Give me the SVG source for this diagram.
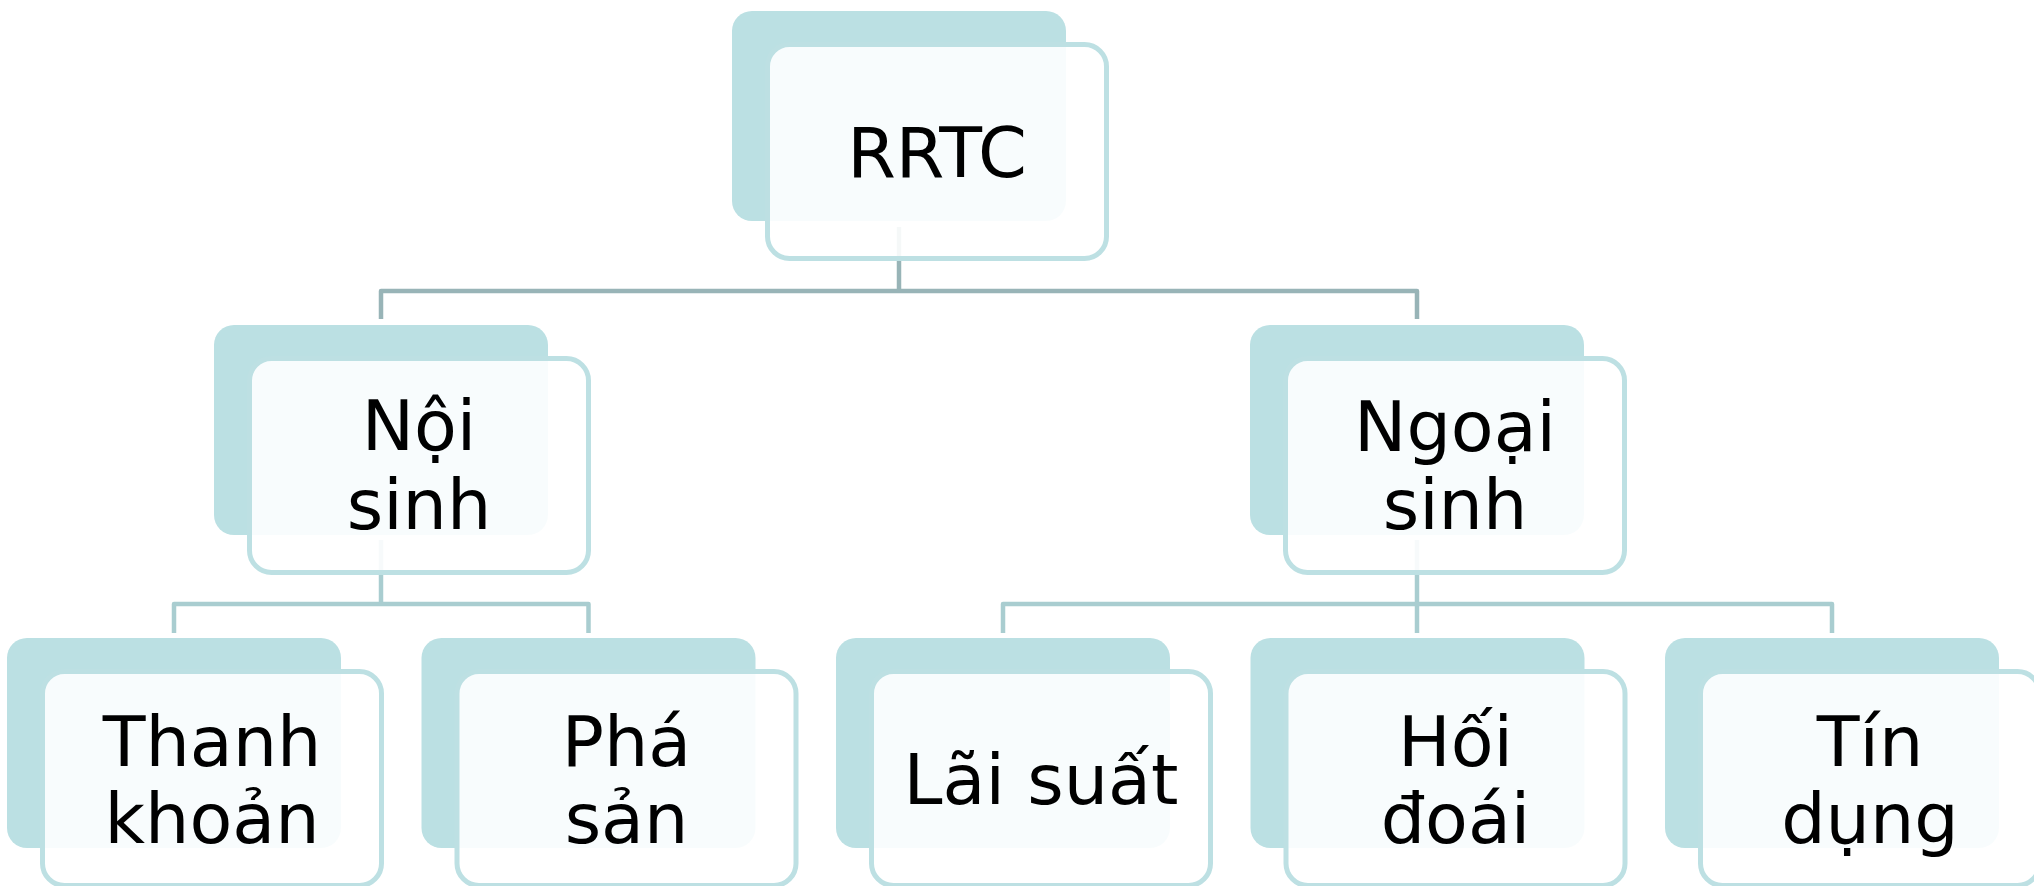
<svg xmlns="http://www.w3.org/2000/svg" width="2034" height="886" viewBox="0 0 2034 886">
  <style>
    .back { fill: #bbe0e3; }
    .front { fill: #ffffff; fill-opacity: 0.9; stroke: #bde0e3; stroke-width: 5; }
    .lbl { font-family: "DejaVu Sans", Verdana, sans-serif; font-size: 70px; fill: #000000; text-anchor: middle; }
    .c1 { fill: none; stroke: #98b4b7; stroke-width: 4.5; stroke-linejoin: round; }
    .c2 { fill: none; stroke: #a9cdd0; stroke-width: 4.5; stroke-linejoin: round; }
  </style>
  <rect width="2034" height="886" fill="#ffffff"/>

  <g id="connectors">
    <path class="c1" d="M899 227 V291"/>
    <path class="c1" d="M381 319 V291 H1417 V319"/>
    <path class="c2" d="M381 540 V604"/>
    <path class="c2" d="M174 633 V604 H588.5 V633"/>
    <path class="c2" d="M1417 540 V633"/>
    <path class="c2" d="M1003 633 V604 H1832 V633"/>
  </g>

  <g id="node-rrtc">
    <rect class="back" x="732" y="11" width="334" height="210" rx="20"/>
    <rect class="front" x="767.5" y="44.5" width="339" height="214" rx="22"/>
    <text class="lbl" x="937" y="177">RRTC</text>
  </g>

  <g id="node-noi-sinh">
    <rect class="back" x="214" y="325" width="334" height="210" rx="20"/>
    <rect class="front" x="249.5" y="358.5" width="339" height="214" rx="22"/>
    <text class="lbl" x="419" y="450">Nội</text>
    <text class="lbl" x="419" y="529">sinh</text>
  </g>

  <g id="node-ngoai-sinh">
    <rect class="back" x="1250" y="325" width="334" height="210" rx="20"/>
    <rect class="front" x="1285.5" y="358.5" width="339" height="214" rx="22"/>
    <text class="lbl" x="1455" y="451">Ngoại</text>
    <text class="lbl" x="1455" y="529">sinh</text>
  </g>

  <g id="node-thanh-khoan">
    <rect class="back" x="7" y="638" width="334" height="210" rx="20"/>
    <rect class="front" x="42.5" y="671.5" width="339" height="214" rx="22"/>
    <text class="lbl" x="212" y="766">Thanh</text>
    <text class="lbl" x="212" y="843">khoản</text>
  </g>

  <g id="node-pha-san">
    <rect class="back" x="421.5" y="638" width="334" height="210" rx="20"/>
    <rect class="front" x="457" y="671.5" width="339" height="214" rx="22"/>
    <text class="lbl" x="626.5" y="766">Phá</text>
    <text class="lbl" x="626.5" y="843">sản</text>
  </g>

  <g id="node-lai-suat">
    <rect class="back" x="836" y="638" width="334" height="210" rx="20"/>
    <rect class="front" x="871.5" y="671.5" width="339" height="214" rx="22"/>
    <text class="lbl" x="1041" y="804">Lãi suất</text>
  </g>

  <g id="node-hoi-doai">
    <rect class="back" x="1250.5" y="638" width="334" height="210" rx="20"/>
    <rect class="front" x="1286" y="671.5" width="339" height="214" rx="22"/>
    <text class="lbl" x="1455.5" y="766">Hối</text>
    <text class="lbl" x="1455.5" y="843">đoái</text>
  </g>

  <g id="node-tin-dung">
    <rect class="back" x="1665" y="638" width="334" height="210" rx="20"/>
    <rect class="front" x="1700.5" y="671.5" width="339" height="214" rx="22"/>
    <text class="lbl" x="1870" y="766">Tín</text>
    <text class="lbl" x="1870" y="843">dụng</text>
  </g>
</svg>
